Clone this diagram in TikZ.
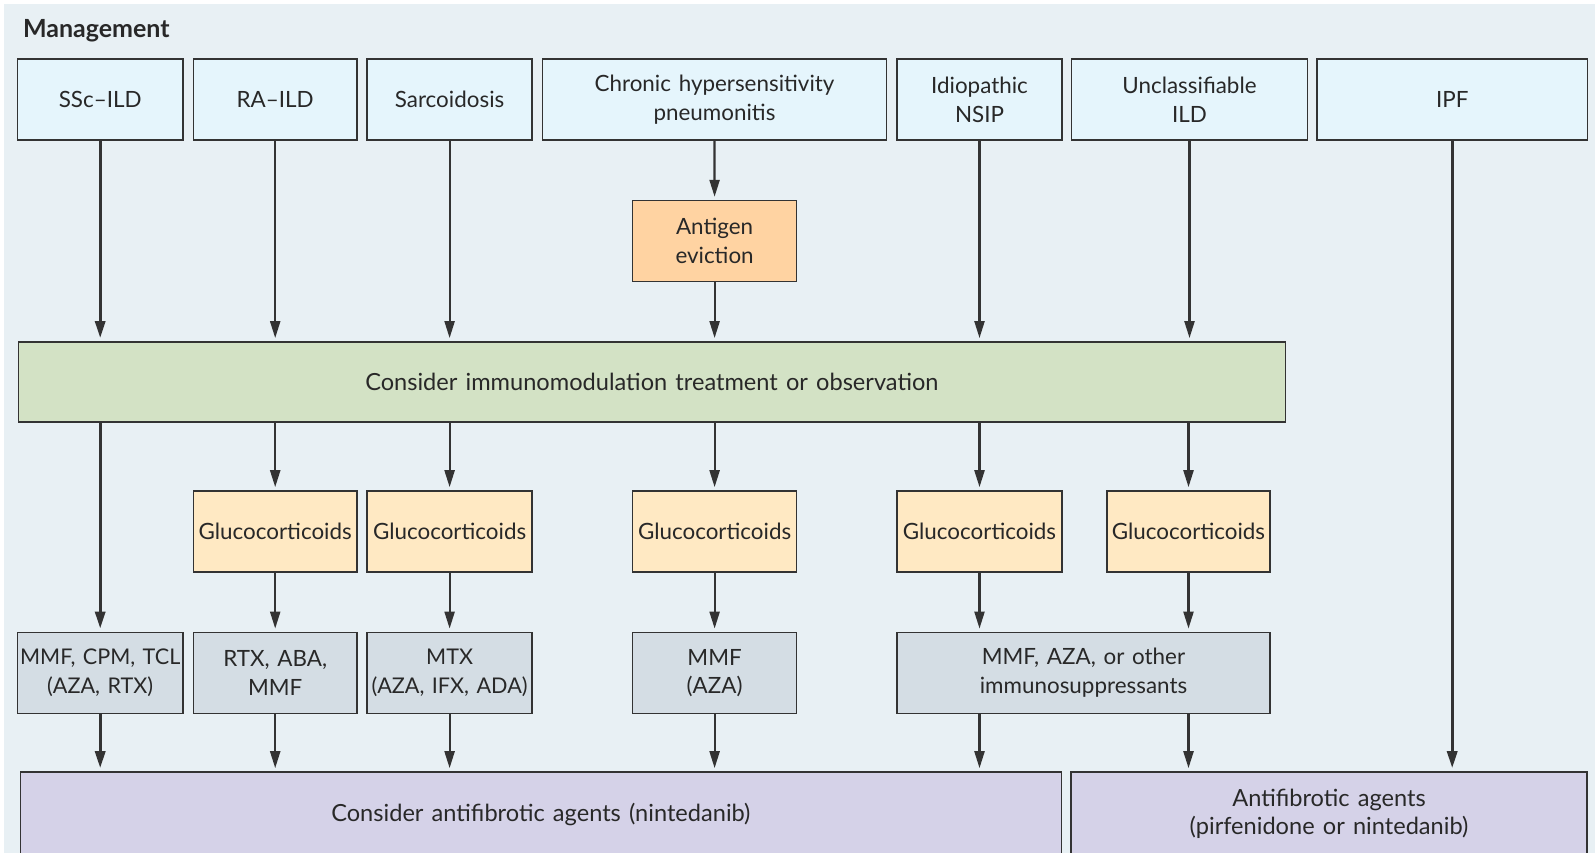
\documentclass[tikz,border=0pt]{standalone}
\usepackage{fontspec}
\setmainfont{Lato}[WordSpace=1.35]
\usetikzlibrary{arrows.meta}
\definecolor{bgc}{RGB}{232,240,244}
\definecolor{topc}{RGB}{229,245,252}
\definecolor{antc}{RGB}{255,211,162}
\definecolor{grnc}{RGB}{211,226,197}
\definecolor{gluc}{RGB}{255,233,195}
\definecolor{drugc}{RGB}{212,221,228}
\definecolor{botc}{RGB}{213,210,232}
\definecolor{linec}{RGB}{51,51,51}
\definecolor{txtc}{RGB}{40,40,40}
\tikzset{
  box/.style={draw=linec, line width=1.6pt, align=center, inner sep=0pt,
    minimum height=81pt, text=txtc, font=\fontsize{22.4}{28.5}\selectfont},
  bigtext/.style={font=\fontsize{23.6}{28.5}\selectfont},
  smalltext/.style={font=\fontsize{21.6}{28.5}\selectfont},
  topbox/.style={box, fill=topc},
  antbox/.style={box, fill=antc},
  grnbox/.style={box, fill=grnc, bigtext},
  glubox/.style={box, fill=gluc},
  drugbox/.style={box, fill=drugc},
  botbox/.style={box, fill=botc, bigtext},
  arr/.style={draw=linec, line width=2.2pt, -{Triangle[length=17pt,width=10pt]}, shorten >=3pt},
  thickarr/.style={arr, line width=3.2pt},
}
\begin{document}
\begin{tikzpicture}[x=1pt,y=-1pt]
\useasboundingbox (0,0) rectangle (1595,853);
\clip (0,0) rectangle (1595,853);
\fill[bgc] (4,4) rectangle (1600,860);
\node[anchor=west, text=txtc, font=\fontsize{25}{28}\selectfont\bfseries] (title) at (19.5,31) {Management};
% top row
\node[topbox, minimum width=165.8pt] (ssc) at (100.2,99.7) {SSc–ILD};
\node[topbox, minimum width=163.7pt] (ra) at (275.2,99.7) {RA–ILD};
\node[topbox, minimum width=164.8pt] (sar) at (449.6,99.7) {Sarcoidosis};
\node[topbox, minimum width=344pt] (chp) at (714.5,99.7) {Chronic hypersensitivity\\pneumonitis};
\node[topbox, minimum width=165pt] (nsip) at (979.5,99.7) {Idiopathic\\NSIP};
\node[topbox, minimum width=236pt] (uild) at (1189.5,99.7) {Unclassifiable\\ILD};
\node[topbox, minimum width=270.5pt] (ipf) at (1452.2,99.7) {IPF};
% antigen
\node[antbox, minimum width=164pt] (ant) at (714.6,241.1) {Antigen\\eviction};
% green
\node[grnbox, minimum width=1267pt, minimum height=80pt] (grn) at (651.9,381.9) {Consider immunomodulation treatment or observation};
% glucocorticoids
\node[glubox, minimum width=163.7pt] (g2) at (275.2,531.5) {Glucocorticoids};
\node[glubox, minimum width=164.8pt] (g3) at (449.6,531.5) {Glucocorticoids};
\node[glubox, minimum width=164pt] (g4) at (714.6,531.5) {Glucocorticoids};
\node[glubox, minimum width=165pt] (g5) at (979.5,531.5) {Glucocorticoids};
\node[glubox, minimum width=163pt] (g6) at (1188.5,531.5) {Glucocorticoids};
% drugs
\node[drugbox, smalltext, minimum width=165.8pt] (d1) at (100.2,672.9) {MMF, CPM, TCL\\(AZA, RTX)};
\node[drugbox, minimum width=163.7pt] (d2) at (275.2,672.9) {RTX, ABA,\\MMF};
\node[drugbox, smalltext, minimum width=164.8pt] (d3) at (449.6,672.9) {MTX\\(AZA, IFX, ADA)};
\node[drugbox, minimum width=164pt] (d4) at (714.6,672.9) {MMF\\(AZA)};
\node[drugbox, minimum width=373pt] (d5) at (1083.5,672.9) {MMF, AZA, or other\\immunosuppressants};
% bottom
\node[botbox, minimum width=1041.2pt, minimum height=84pt] (bl) at (540.9,814) {Consider antifibrotic agents (nintedanib)};
\node[botbox, minimum width=516pt, minimum height=84pt] (br) at (1329,814) {Antifibrotic agents\\(pirfenidone or nintedanib)};
% arrows top -> green
\draw[thickarr] (ssc.south) -- (ssc.south |- grn.north);
\draw[arr] (ra.south) -- (ra.south |- grn.north);
\draw[arr] (sar.south) -- (sar.south |- grn.north);
\draw[arr] (chp.south) -- (ant.north);
\draw[arr] (ant.south) -- (ant.south |- grn.north);
\draw[arr] (nsip.south) -- (nsip.south |- grn.north);
\draw[arr] (uild.south) -- (uild.south |- grn.north);
\draw[thickarr] (ipf.south) -- (ipf.south |- br.north);
% green -> next
\draw[thickarr] (grn.south -| d1.north) -- (d1.north);
\draw[arr] (grn.south -| g2.north) -- (g2.north);
\draw[arr] (grn.south -| g3.north) -- (g3.north);
\draw[arr] (grn.south -| g4.north) -- (g4.north);
\draw[arr] (grn.south -| g5.north) -- (g5.north);
\draw[arr] (grn.south -| g6.north) -- (g6.north);
% gluc -> drugs
\draw[arr] (g2.south) -- (d2.north);
\draw[arr] (g3.south) -- (d3.north);
\draw[arr] (g4.south) -- (d4.north);
\draw[arr] (g5.south) -- (g5.south |- d5.north);
\draw[arr] (g6.south) -- (g6.south |- d5.north);
% drugs -> bottom
\draw[thickarr] (d1.south) -- (d1.south |- bl.north);
\draw[arr] (d2.south) -- (d2.south |- bl.north);
\draw[arr] (d3.south) -- (d3.south |- bl.north);
\draw[arr] (d4.south) -- (d4.south |- bl.north);
\draw[arr] (d5.south -| g5.south) -- (g5.south |- bl.north);
\draw[arr] (d5.south -| g6.south) -- (g6.south |- br.north);
\end{tikzpicture}
\end{document}
